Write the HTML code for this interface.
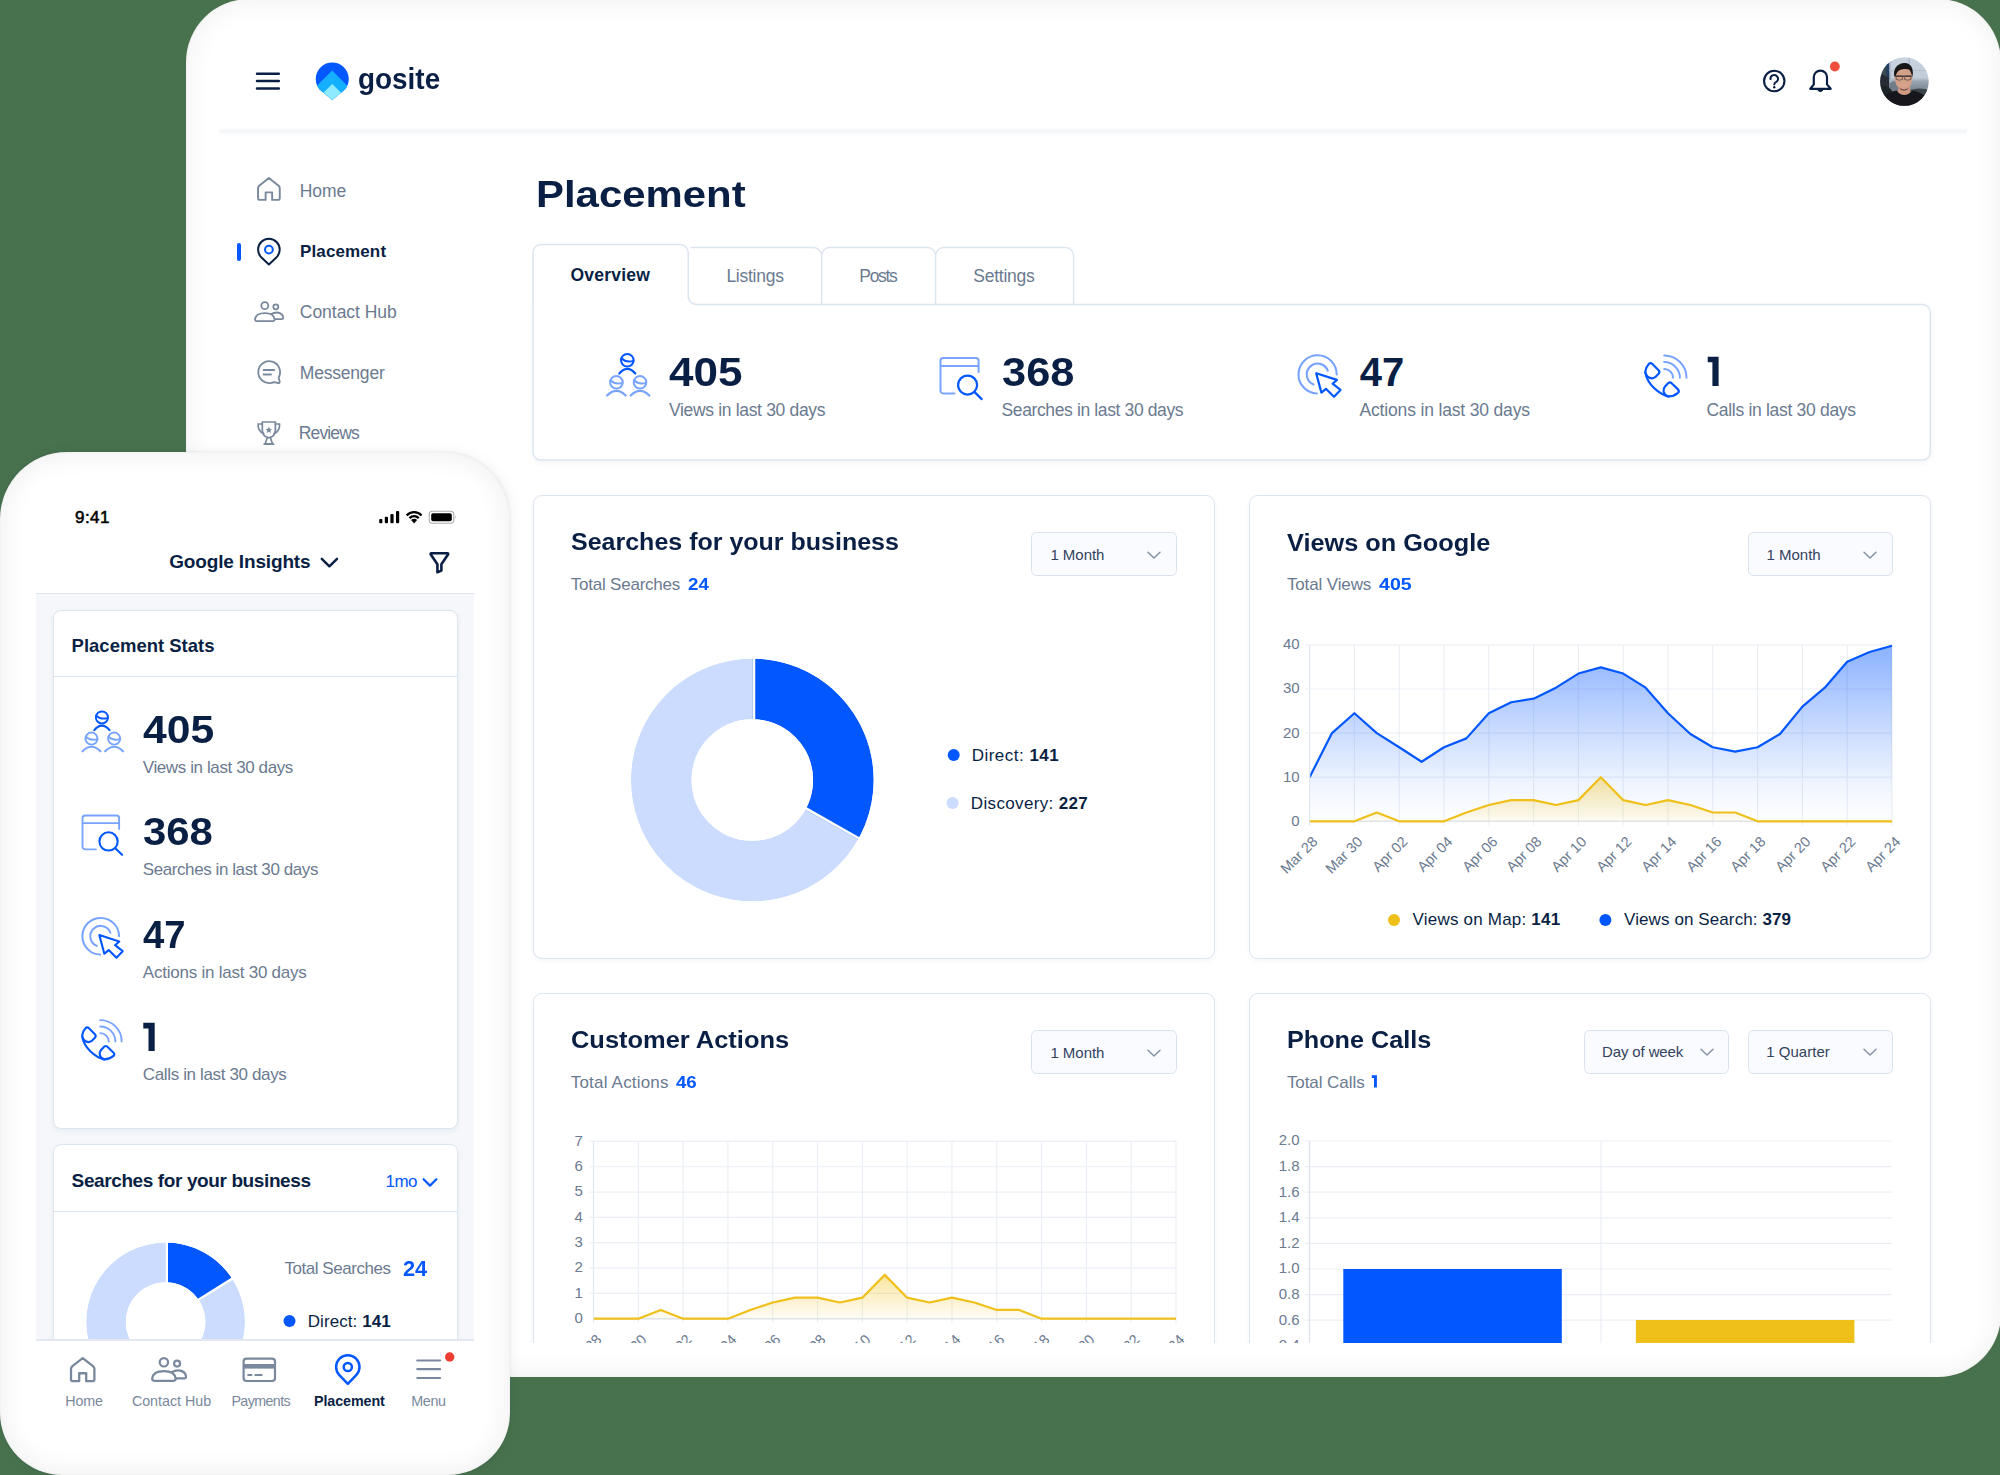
<!DOCTYPE html>
<html><head><meta charset="utf-8"><title>GoSite Placement</title>
<style>
html,body{margin:0;padding:0;}
body{width:2000px;height:1475px;overflow:hidden;background:#48724d;position:relative;font-family:"Liberation Sans",sans-serif;}
.b{position:absolute;box-sizing:border-box;}
.t{position:absolute;white-space:nowrap;line-height:1;transform-origin:0 50%;}
.clip{position:absolute;overflow:hidden;}
</style></head><body>
<div class="b" style="left:186px;top:-1px;width:1815px;height:1378px;border-radius:63px;background:#fff;box-shadow:inset 0 0 26px 4px rgba(15,15,25,0.052), inset 0 0 3px rgba(15,15,25,0.05);"></div>
<div class="b" style="left:219px;top:30px;width:1748px;height:1313px;border-radius:30px 30px 0 0;background:#fff;box-shadow:0 0 10px 6px #fff;"></div>
<div class="clip" style="left:0;top:0;width:2000px;height:1343px;">
<div class="b" style="left:219px;top:127.5px;width:1748px;height:3px;background:linear-gradient(#fff,#f3f5f8);"></div>
<div class="b" style="left:219px;top:130.5px;width:1748px;height:4px;background:linear-gradient(#f2f4f7,#fff);"></div>
<svg class="b" style="left:250px;top:66px;" width="36" height="30" viewBox="0 0 36 30" fill="none"><path d="M7 7.8H28.8M7 15.1H28.8M7 22.6H28.8" stroke="#0a1f44" stroke-width="2.5" stroke-linecap="round"/></svg>
<svg class="b" style="left:312px;top:58px;" width="42" height="46" viewBox="0 0 42 46" fill="none"><defs><clipPath id="lp"><path d="M20.25 42 L7.6 31.6 A16.5 16.5 0 1 1 32.9 31.6 Z"/></clipPath></defs>
<g clip-path="url(#lp)"><rect x="0" y="0" width="42" height="46" fill="#0357ff"/>
<path d="M20.25 12.6 L44 36.4 V46 H-4 V36.4 Z" fill="#14b0ff"/>
<path d="M20.25 26 L44 49.8 H-4 Z" fill="#8eeaff"/></g></svg>
<div class="t" style="left:358.40px;top:64.55px;font-size:29px;color:#0a1f44;font-weight:700;transform:scaleX(0.9618);">gosite</div>
<svg class="b" style="left:1760px;top:67px;" width="28" height="28" viewBox="0 0 28 28" fill="none"><circle cx="14.25" cy="14" r="10.2" stroke="#0a1f44" stroke-width="2.1"/><path d="M10.5 12.1 A3.75 3.75 0 1 1 16.3 14.9 C14.7 15.7 14.25 16.2 14.25 17.6" stroke="#0a1f44" stroke-width="2" stroke-linecap="round"/><circle cx="14.25" cy="20.3" r="1.2" fill="#0a1f44"/></svg>
<svg class="b" style="left:1804px;top:60px;" width="40" height="38" viewBox="0 0 40 38" fill="none"><path d="M6.3 28.8 H26.7 L23 24.4 V17.2 A6.6 6.6 0 0 0 9.8 17.2 V24.4 Z" stroke="#0a1f44" stroke-width="2.2" stroke-linejoin="round"/><path d="M13.6 29.5 A2.8 2.8 0 0 0 19.0 29.5Z" fill="#0a1f44" stroke="#0a1f44" stroke-width="1"/><circle cx="30.85" cy="6.5" r="4.9" fill="#f04e3e"/></svg>
<svg class="b" style="left:1879.8px;top:56.9px;" width="49" height="49" viewBox="0 0 49 49" fill="none"><defs><clipPath id="av"><circle cx="24.4" cy="24.5" r="24.3"/></clipPath>
<linearGradient id="avbg" x1="0" y1="0" x2="0" y2="1"><stop offset="0" stop-color="#c9d4e1"/><stop offset="0.42" stop-color="#c2ccd8"/><stop offset="0.5" stop-color="#98a5b2"/><stop offset="0.66" stop-color="#7c8994"/><stop offset="0.72" stop-color="#4a565b"/><stop offset="1" stop-color="#2c3336"/></linearGradient>
<filter id="avb" x="-10%" y="-10%" width="120%" height="120%"><feGaussianBlur stdDeviation="0.7"/></filter></defs>
<g clip-path="url(#av)"><rect width="49" height="49" fill="url(#avbg)"/>
<g filter="url(#avb)">
<path d="M0 10 L9 4 L9.5 40 L0 44Z" fill="#3b4852"/>
<path d="M6.5 6 L9.2 4.5 L9.6 22 L6.5 23Z" fill="#243c63"/>
<path d="M0 16 L9 21 L9 34 L0 30Z" fill="#252c31"/>
<rect x="9.6" y="3" width="1.6" height="34" fill="#aeb9c6"/>
<rect x="28.6" y="0" width="1.2" height="22" fill="#aab5c2"/>
<rect x="9" y="13.2" width="40" height="0.9" fill="#b3bdc9"/>
<path d="M9.5 26 L20 22 L20 40 L9.5 40Z" fill="#6f7d88"/>
<path d="M0 30 Q8 26 13 36 L16 49 L0 49Z" fill="#1f2326"/>
<path d="M30 33 Q40 30 49 33 L49 49 L30 49Z" fill="#3a4548"/>
<path d="M15.2 25 Q13.6 16 17 11 Q24 9 31 12 Q33.4 18 31.6 25 Q30.6 31.6 24 32.6 Q17 31.8 15.2 25Z" fill="#d5a088"/>
<path d="M14.2 19.5 Q12.6 9.5 21 6.4 Q30 4.6 32.4 12 Q33.6 16.5 32.2 20.5 Q31.6 15 29 12.4 Q24 11.2 19.8 13 Q16.6 14.6 15.6 19.6Z" fill="#131316"/>
<path d="M15.6 18.6 H31.6 V20 H15.6Z" fill="#4a3f3c"/>
<path d="M16.2 18.8 h6.4 v3.6 q-3.2 1.6 -6.4 0Z M24.6 18.8 h6.4 v3.6 q-3.2 1.6 -6.4 0Z" fill="none" stroke="#5a4a46" stroke-width="0.8"/>
<path d="M20.4 27.2 Q24 29.6 27.6 27.2 Q24 30.8 20.4 27.2Z" fill="#e9b7a6"/>
<path d="M18.4 29.5 Q24 35 30 29.5 L30.6 36 Q24 41 17.8 36Z" fill="#cf9a82"/>
<path d="M19 30.6 Q24 34.4 29.4 30.6 Q27 33.8 24 33.6 Q21 33.8 19 30.6Z" fill="#3a2a26" opacity="0.75"/>
<path d="M0 49 V42 Q6 35.6 16.4 33.6 Q24 42.6 32.6 33.6 Q43 35.6 49 43 V49Z" fill="#19191c"/>
</g></g></svg>
<svg class="b" style="left:0px;top:0px;" width="600" height="470" viewBox="0 0 600 470" fill="none"><path d="M265.64 199.90H260.05Q258.05 199.90 258.05 197.90V188.26Q258.05 186.76 259.45 185.56L268.90 178.00L278.35 185.56Q279.75 186.76 279.75 188.26V197.90Q279.75 199.90 277.75 199.90H272.15V192.34H265.64Z" stroke="#7a889e" stroke-width="1.9" stroke-linejoin="round"/><path d="M261.46 257.43A10.8 10.8 0 1 1 276.34 257.43L268.9 264.5Z" stroke="#0a1f44" stroke-width="2.0" stroke-linejoin="round"/><circle cx="268.9" cy="249.6" r="3.9" stroke="#0357ff" stroke-width="2.0"/><circle cx="264.8" cy="305.7" r="3.50" stroke="#7a889e" stroke-width="1.8"/><circle cx="275.80" cy="306.80" r="2.50" stroke="#7a889e" stroke-width="1.8"/><path d="M271.00 314.10Q274.30 312.30 277.20 312.50Q283.00 313.30 283.20 317.70Q283.20 319.10 281.80 319.10H274.60" stroke="#7a889e" stroke-width="1.8" stroke-linecap="round" stroke-linejoin="round"/><path d="M256.60 321.10Q255.00 321.10 255.00 319.30Q255.80 313.10 264.80 313.10Q273.80 313.10 274.60 319.30Q274.60 321.10 273.00 321.10Z" stroke="#7a889e" stroke-width="1.8" stroke-linejoin="round" fill="#fff"/><path d="M278.6 377.6 A10.9 10.9 0 1 0 271.4 382.8 Q273.4 382.0 275.4 382.4 L278.2 383.0 Q279.9 383.2 279.7 381.6 Z" stroke="#7a889e" stroke-width="1.8" stroke-linejoin="round"/><path d="M263.6 370H274.2M263.6 374.5H271" stroke="#7a889e" stroke-width="1.8" stroke-linecap="round"/><path d="M262.3 422 H275.4 V429.5 Q275.4 436.6 268.85 437.8 Q262.3 436.6 262.3 429.5 Z" stroke="#7a889e" stroke-width="1.7" stroke-linejoin="round"/><path d="M262.3 424 H258.2 Q257.4 430.6 263.6 433.6 M275.4 424 H279.5 Q280.3 430.6 274.1 433.6" stroke="#7a889e" stroke-width="1.7" stroke-linecap="round"/><path d="M267.2 438 L265.2 443.8 H272.5 L270.5 438 M264.2 444.2 H273.6" stroke="#7a889e" stroke-width="1.7" stroke-linejoin="round" stroke-linecap="round"/><path d="M268.85 426.6 L269.8 428.8 L272.1 429 L270.4 430.6 L270.9 432.9 L268.85 431.7 L266.8 432.9 L267.3 430.6 L265.6 429 L267.9 428.8Z" fill="#7a889e"/></svg>
<div class="b" style="left:237.3px;top:242.8px;width:4px;height:18px;background:#0357ff;border-radius:2px;"></div>
<div class="t" style="left:299.80px;top:182.59px;font-size:17.5px;color:#6b7a90;letter-spacing:-0.075px;">Home</div>
<div class="t" style="left:300.00px;top:243.31px;font-size:17px;color:#0a1f44;font-weight:700;letter-spacing:0.125px;">Placement</div>
<div class="t" style="left:299.80px;top:304.29px;font-size:17.5px;color:#6b7a90;letter-spacing:-0.030px;">Contact Hub</div>
<div class="t" style="left:299.80px;top:364.79px;font-size:17.5px;color:#6b7a90;letter-spacing:-0.203px;">Messenger</div>
<div class="t" style="left:298.80px;top:425.29px;font-size:17.5px;color:#6b7a90;letter-spacing:-0.858px;">Reviews</div>
<div class="t" style="left:536.30px;top:176.95px;font-size:36.8px;color:#0a1f44;font-weight:700;transform:scaleX(1.1386);">Placement</div>
<div class="b" style="left:533px;top:304.4px;width:1397.5px;height:156.4px;border-radius:0 9px 9px 9px;background:#fff;box-shadow:0 2px 6px rgba(30,60,110,0.06);"></div>
<svg class="b" style="left:0px;top:0px;" width="2000" height="470" viewBox="0 0 2000 470" fill="none"><path d="M696.2 304.4H1922.3a8 8 0 0 1 8 8V452.1a8 8 0 0 1 -8 8H541.0a8 8 0 0 1 -8 -8V252.6a8 8 0 0 1 8 -8H680.2a8 8 0 0 1 8 8V296.4a8 8 0 0 0 8 8Z" fill="#fff" stroke="#dde5f0" stroke-width="1.5"/><path d="M690.7 247.6H813.6a8 8 0 0 1 8 8V304.4M821.6 304.4V255.6a8 8 0 0 1 8 -8H927.6a8 8 0 0 1 8 8V304.4M935.6 304.4V255.6a8 8 0 0 1 8 -8H1065.6a8 8 0 0 1 8 8V304.4" stroke="#dde5f0" stroke-width="1.5"/></svg>
<div class="t" style="left:570.50px;top:266.89px;font-size:17.5px;color:#0a1f44;font-weight:700;letter-spacing:0.232px;">Overview</div>
<div class="t" style="left:726.40px;top:267.69px;font-size:17.5px;color:#6b7a90;letter-spacing:-0.261px;">Listings</div>
<div class="t" style="left:859.30px;top:267.69px;font-size:17.5px;color:#6b7a90;letter-spacing:-1.312px;">Posts</div>
<div class="t" style="left:973.30px;top:267.69px;font-size:17.5px;color:#6b7a90;letter-spacing:-0.239px;">Settings</div>
<svg class="b" style="left:0px;top:0px;" width="2000" height="470" viewBox="0 0 2000 470" fill="none"><circle cx="627.3" cy="360.3" r="6.3" stroke="#0357ff" stroke-width="2"/><path d="M621.4 358.3 Q625.8 362.90000000000003 633.5 360.90000000000003" stroke="#0357ff" stroke-width="2" stroke-linecap="round"/><path d="M619.3 373.5 Q627.3 364.1 635.3 373.5" stroke="#0357ff" stroke-width="2.2" stroke-linecap="round"/><circle cx="616.4" cy="382.3" r="6.3" stroke="#78a4ff" stroke-width="2"/><path d="M610.5 380.3 Q614.9 384.90000000000003 622.6 382.90000000000003" stroke="#78a4ff" stroke-width="2" stroke-linecap="round"/><path d="M607.1 395.5 Q616.4 386.1 625.6999999999999 395.5" stroke="#78a4ff" stroke-width="2.2" stroke-linecap="round"/><circle cx="640.0" cy="382.3" r="6.3" stroke="#78a4ff" stroke-width="2"/><path d="M634.1 380.3 Q638.5 384.90000000000003 646.2 382.90000000000003" stroke="#78a4ff" stroke-width="2" stroke-linecap="round"/><path d="M630.7 395.5 Q640.0 386.1 649.3 395.5" stroke="#78a4ff" stroke-width="2.2" stroke-linecap="round"/><g transform="translate(939 356)"><path d="M15.4 37.4H4.2a2.7 2.7 0 0 1-2.7-2.7V4.7A2.7 2.7 0 0 1 4.2 2H36.9a2.7 2.7 0 0 1 2.7 2.7V16.1M1.5 10H39.6" stroke="#78a4ff" stroke-width="2" stroke-linecap="round"/><circle cx="28.6" cy="29.1" r="9.5" stroke="#0357ff" stroke-width="2.2"/><path d="M35.6 36.1L42.7 43.1" stroke="#0357ff" stroke-width="2.2" stroke-linecap="round"/></g><path d="M1316.93 393.49A19.1 19.1 0 1 1 1336.70 374.40" stroke="#78a4ff" stroke-width="2.1" stroke-linecap="round"/><path d="M1313.55 384.41A10.8 10.8 0 1 1 1327.75 370.71" stroke="#78a4ff" stroke-width="2.1" stroke-linecap="round"/><path d="M1316.20 373.20 L1336.90 379.90 L1332.60 383.70 L1340.50 389.90 L1334.00 396.80 L1325.90 388.80 L1321.40 392.60Z" stroke="#0357ff" stroke-width="2.2" stroke-linejoin="round" fill="#fff"/><g transform="translate(1630 340)"><path d="M34.20 15.50A22.3 22.3 0 0 1 56.50 37.80" stroke="#78a4ff" stroke-width="2" stroke-linecap="round"/><path d="M34.20 22.10A15.7 15.7 0 0 1 49.90 37.80" stroke="#78a4ff" stroke-width="2" stroke-linecap="round"/><path d="M34.20 29.00A8.8 8.8 0 0 1 43.00 37.80" stroke="#78a4ff" stroke-width="2" stroke-linecap="round"/><path d="M19.2 23.4 Q21 22.6 22.4 24.0 L28.6 30.2 Q30.2 32.0 28.6 33.8 L25.2 37.2 Q21.4 39.8 17.6 36.6 Q15.0 33.4 15.4 31.2 Q16.2 26.6 19.2 23.4Z" stroke="#0357ff" stroke-width="2.2" stroke-linejoin="round"/><path d="M38.4 43.0 Q40.0 41.8 41.6 43.2 L48.0 49.4 Q49.6 51.2 48.0 52.8 Q43.4 56.6 38.2 56.4 Q34.6 55.4 33.6 51.2 Q33.4 48.4 35.0 46.6 Z" stroke="#0357ff" stroke-width="2.2" stroke-linejoin="round"/><path d="M15.4 32.6 Q16.6 40.6 23.8 47.8 Q30.8 54.6 38.4 56.4" stroke="#0357ff" stroke-width="2.2" stroke-linecap="round"/></g></svg>
<div class="t" style="left:669.30px;top:351.94px;font-size:40px;color:#0a1f44;font-weight:700;transform:scaleX(1.1003);">405</div>
<div class="t" style="left:1001.50px;top:351.94px;font-size:40px;color:#0a1f44;font-weight:700;transform:scaleX(1.0853);">368</div>
<div class="t" style="left:1359.80px;top:351.94px;font-size:40px;color:#0a1f44;font-weight:700;">47</div>
<svg class="b" style="left:1700px;top:350px;" width="30" height="40" viewBox="0 0 30 40" fill="none"><path d="M7.7 6.8H18.6V35.9H12.4V12.2H7.7Z" fill="#0a1f44"/></svg>
<div class="t" style="left:669.00px;top:402.09px;font-size:17.5px;color:#6b7a90;letter-spacing:-0.330px;">Views in last 30 days</div>
<div class="t" style="left:1001.50px;top:402.09px;font-size:17.5px;color:#6b7a90;letter-spacing:-0.373px;">Searches in last 30 days</div>
<div class="t" style="left:1359.50px;top:402.09px;font-size:17.5px;color:#6b7a90;letter-spacing:-0.165px;">Actions in last 30 days</div>
<div class="t" style="left:1706.50px;top:402.09px;font-size:17.5px;color:#6b7a90;letter-spacing:-0.304px;">Calls in last 30 days</div>
<div class="b" style="left:533px;top:495px;width:682px;height:463.5px;border:1.5px solid #dde5f0;border-radius:9px;background:#fff;box-shadow:0 2px 5px rgba(30,60,110,0.05);"></div>
<div class="b" style="left:1249px;top:495px;width:682px;height:463.5px;border:1.5px solid #dde5f0;border-radius:9px;background:#fff;box-shadow:0 2px 5px rgba(30,60,110,0.05);"></div>
<div class="b" style="left:533px;top:993px;width:682px;height:463.5px;border:1.5px solid #dde5f0;border-radius:9px;background:#fff;box-shadow:0 2px 5px rgba(30,60,110,0.05);"></div>
<div class="b" style="left:1249px;top:993px;width:682px;height:463.5px;border:1.5px solid #dde5f0;border-radius:9px;background:#fff;box-shadow:0 2px 5px rgba(30,60,110,0.05);"></div>
<div class="t" style="left:570.80px;top:531.33px;font-size:23px;color:#0a1f44;font-weight:700;transform:scaleX(1.0870);">Searches for your business</div>
<div class="t" style="left:570.80px;top:575.91px;font-size:17px;color:#6b7a90;letter-spacing:-0.228px;">Total Searches</div>
<div class="t" style="left:688.10px;top:575.91px;font-size:17px;color:#0357ff;font-weight:700;transform:scaleX(1.0977);">24</div>
<div class="b" style="left:1031.3px;top:531.85px;width:145.5px;height:44.3px;border:1.5px solid #dae2ed;border-radius:5.5px;background:#fafbfe;"></div>
<div class="t" style="left:1050.40px;top:546.60px;font-size:15px;color:#33425f;letter-spacing:-0.025px;">1 Month</div>
<svg class="b" style="left:1146px;top:548.6px;" width="16" height="12" viewBox="0 0 16 12" fill="none"><path d="M2 3.2 L8 9 L14 3.2" stroke="#8693a6" stroke-width="1.5" stroke-linecap="round" stroke-linejoin="round"/></svg>
<svg class="b" style="left:0px;top:0px;" width="1240" height="960" viewBox="0 0 1240 960" fill="none"><path d="M752.30 658.60A121.4 121.4 0 0 1 857.96 839.78L805.17 809.91A60.75 60.75 0 0 0 752.30 719.25Z" fill="#0357ff"/><path d="M857.96 839.78A121.4 121.4 0 1 1 752.30 658.60L752.30 719.25A60.75 60.75 0 1 0 805.17 809.91Z" fill="#ccdcff"/><path d="M752.30 720.75L752.30 657.10L754.20 657.10L754.20 720.75Z" fill="#ccdcff"/><path d="M803.87 809.18L859.27 840.52L860.20 838.87L804.80 807.52Z" fill="#ccdcff"/><circle cx="752.3" cy="780" r="91.075" stroke="none" fill="none"/><path d="M754.20 721.25L754.20 656.60" stroke="#fff" stroke-width="2.1"/><path d="M804.37 807.28L860.64 839.11" stroke="#fff" stroke-width="2.1"/><circle cx="752.3" cy="780" r="123.4" stroke="#fff" stroke-width="4" fill="none"/><circle cx="752.3" cy="780" r="58.75" stroke="#fff" stroke-width="4" fill="none"/><circle cx="953.7" cy="755" r="6" fill="#0357ff"/><circle cx="952.6" cy="803" r="6" fill="#ccdcff"/></svg>
<div class="t" style="left:971.70px;top:746.71px;font-size:17px;letter-spacing:0.480px;white-space:pre"><span style="color:#0a1f44;">Direct:</span><span style="color:#0a1f44;">&nbsp;</span><span style="color:#0a1f44;font-weight:700;">141</span></div>
<div class="t" style="left:970.80px;top:795.41px;font-size:17px;letter-spacing:0.352px;white-space:pre"><span style="color:#0a1f44;">Discovery:</span><span style="color:#0a1f44;">&nbsp;</span><span style="color:#0a1f44;font-weight:700;">227</span></div>
<div class="t" style="left:1286.90px;top:531.63px;font-size:23px;color:#0a1f44;font-weight:700;transform:scaleX(1.0994);">Views on Google</div>
<div class="t" style="left:1286.90px;top:575.51px;font-size:17px;color:#6b7a90;letter-spacing:-0.128px;">Total Views</div>
<div class="t" style="left:1379.00px;top:575.51px;font-size:17px;color:#0357ff;font-weight:700;transform:scaleX(1.1518);">405</div>
<div class="b" style="left:1747.6px;top:532.15px;width:145.2px;height:44.3px;border:1.5px solid #dae2ed;border-radius:5.5px;background:#fafbfe;"></div>
<div class="t" style="left:1766.60px;top:546.90px;font-size:15px;color:#33425f;letter-spacing:-0.025px;">1 Month</div>
<svg class="b" style="left:1862px;top:548.9px;" width="16" height="12" viewBox="0 0 16 12" fill="none"><path d="M2 3.2 L8 9 L14 3.2" stroke="#8693a6" stroke-width="1.5" stroke-linecap="round" stroke-linejoin="round"/></svg>
<svg class="b" style="left:0px;top:0px;" width="2000" height="960" viewBox="0 0 2000 960" fill="none"><defs><linearGradient id="gbv" x1="0" y1="0" x2="0" y2="1"><stop offset="0" stop-color="#0357ff" stop-opacity="0.46"/><stop offset="0.5" stop-color="#0357ff" stop-opacity="0.2"/><stop offset="0.78" stop-color="#0357ff" stop-opacity="0.065"/><stop offset="1" stop-color="#0357ff" stop-opacity="0.0"/></linearGradient><linearGradient id="gyv" x1="0" y1="0" x2="0" y2="1"><stop offset="0" stop-color="#f4cd46" stop-opacity="0.52"/><stop offset="1" stop-color="#f4cd46" stop-opacity="0.06"/></linearGradient><clipPath id="cpv"><rect x="1310.1999999999998" y="641.9" width="582.2" height="182.39999999999998"/></clipPath></defs><path d="M1309.60 644.9V825.3" stroke="#dfe6f1" stroke-width="1.2"/><path d="M1354.40 644.9V825.3" stroke="#ebeff5" stroke-width="1.2"/><path d="M1399.20 644.9V825.3" stroke="#ebeff5" stroke-width="1.2"/><path d="M1444.00 644.9V825.3" stroke="#ebeff5" stroke-width="1.2"/><path d="M1488.80 644.9V825.3" stroke="#ebeff5" stroke-width="1.2"/><path d="M1533.60 644.9V825.3" stroke="#ebeff5" stroke-width="1.2"/><path d="M1578.40 644.9V825.3" stroke="#ebeff5" stroke-width="1.2"/><path d="M1623.20 644.9V825.3" stroke="#ebeff5" stroke-width="1.2"/><path d="M1668.00 644.9V825.3" stroke="#ebeff5" stroke-width="1.2"/><path d="M1712.80 644.9V825.3" stroke="#ebeff5" stroke-width="1.2"/><path d="M1757.60 644.9V825.3" stroke="#ebeff5" stroke-width="1.2"/><path d="M1802.40 644.9V825.3" stroke="#ebeff5" stroke-width="1.2"/><path d="M1847.20 644.9V825.3" stroke="#ebeff5" stroke-width="1.2"/><path d="M1892.00 644.9V825.3" stroke="#ebeff5" stroke-width="1.2"/><path d="M1305.6 777.20H1892.0" stroke="#ebeff5" stroke-width="1.2"/><path d="M1305.6 733.10H1892.0" stroke="#ebeff5" stroke-width="1.2"/><path d="M1305.6 689.00H1892.0" stroke="#ebeff5" stroke-width="1.2"/><path d="M1305.6 644.90H1892.0" stroke="#ebeff5" stroke-width="1.2"/><path d="M1309.6 821.3H1892.0" stroke="#dfe4ec" stroke-width="1.4"/><g clip-path="url(#cpv)"><path d="M1309.60 777.20 L1332.00 733.10 L1354.40 713.25 L1376.80 733.10 L1399.20 747.21 L1421.60 761.76 L1444.00 747.21 L1466.40 738.39 L1488.80 713.25 L1511.20 702.23 L1533.60 698.70 L1556.00 687.68 L1578.40 673.56 L1600.80 667.39 L1623.20 673.56 L1645.60 687.68 L1668.00 713.25 L1690.40 733.98 L1712.80 747.21 L1735.20 751.62 L1757.60 747.21 L1780.00 733.98 L1802.40 706.64 L1824.80 687.68 L1847.20 661.66 L1869.60 651.96 L1892.00 645.78 L1892.0 821.3 L1309.6 821.3Z" fill="url(#gbv)"/><path d="M1309.60 777.20 L1332.00 733.10 L1354.40 713.25 L1376.80 733.10 L1399.20 747.21 L1421.60 761.76 L1444.00 747.21 L1466.40 738.39 L1488.80 713.25 L1511.20 702.23 L1533.60 698.70 L1556.00 687.68 L1578.40 673.56 L1600.80 667.39 L1623.20 673.56 L1645.60 687.68 L1668.00 713.25 L1690.40 733.98 L1712.80 747.21 L1735.20 751.62 L1757.60 747.21 L1780.00 733.98 L1802.40 706.64 L1824.80 687.68 L1847.20 661.66 L1869.60 651.96 L1892.00 645.78" stroke="#0357ff" stroke-width="2.2" stroke-linejoin="round" stroke-linecap="butt"/><path d="M1309.60 821.30 L1332.00 821.30 L1354.40 821.30 L1376.80 812.48 L1399.20 821.30 L1421.60 821.30 L1444.00 821.30 L1466.40 812.48 L1488.80 804.98 L1511.20 800.13 L1533.60 800.13 L1556.00 804.98 L1578.40 800.13 L1600.80 777.20 L1623.20 800.13 L1645.60 804.98 L1668.00 800.13 L1690.40 804.98 L1712.80 812.48 L1735.20 812.48 L1757.60 821.30 L1780.00 821.30 L1802.40 821.30 L1824.80 821.30 L1847.20 821.30 L1869.60 821.30 L1892.00 821.30 L1892.0 821.3 L1309.6 821.3Z" fill="url(#gyv)"/><path d="M1309.60 821.30 L1332.00 821.30 L1354.40 821.30 L1376.80 812.48 L1399.20 821.30 L1421.60 821.30 L1444.00 821.30 L1466.40 812.48 L1488.80 804.98 L1511.20 800.13 L1533.60 800.13 L1556.00 804.98 L1578.40 800.13 L1600.80 777.20 L1623.20 800.13 L1645.60 804.98 L1668.00 800.13 L1690.40 804.98 L1712.80 812.48 L1735.20 812.48 L1757.60 821.30 L1780.00 821.30 L1802.40 821.30 L1824.80 821.30 L1847.20 821.30 L1869.60 821.30 L1892.00 821.30" stroke="#f0c01a" stroke-width="2.2" stroke-linejoin="round" stroke-linecap="butt"/></g><circle cx="1394" cy="919.9" r="6" fill="#f0c01a"/><circle cx="1605.4" cy="919.9" r="6" fill="#0357ff"/></svg>
<div class="t" style="left:1291.20px;top:812.70px;font-size:15px;color:#6b7a90;">0</div>
<div class="t" style="left:1282.95px;top:768.60px;font-size:15px;color:#6b7a90;">10</div>
<div class="t" style="left:1282.95px;top:724.50px;font-size:15px;color:#6b7a90;">20</div>
<div class="t" style="left:1282.95px;top:680.40px;font-size:15px;color:#6b7a90;">30</div>
<div class="t" style="left:1282.95px;top:636.30px;font-size:15px;color:#6b7a90;">40</div>
<div class="t" style="left:1255.30px;top:832.40px;width:60px;text-align:right;font-size:14.5px;color:#6b7a90;transform-origin:100% 50%;transform:rotate(-45deg);">Mar 28</div>
<div class="t" style="left:1300.10px;top:832.40px;width:60px;text-align:right;font-size:14.5px;color:#6b7a90;transform-origin:100% 50%;transform:rotate(-45deg);">Mar 30</div>
<div class="t" style="left:1344.90px;top:832.40px;width:60px;text-align:right;font-size:14.5px;color:#6b7a90;transform-origin:100% 50%;transform:rotate(-45deg);">Apr 02</div>
<div class="t" style="left:1389.70px;top:832.40px;width:60px;text-align:right;font-size:14.5px;color:#6b7a90;transform-origin:100% 50%;transform:rotate(-45deg);">Apr 04</div>
<div class="t" style="left:1434.50px;top:832.40px;width:60px;text-align:right;font-size:14.5px;color:#6b7a90;transform-origin:100% 50%;transform:rotate(-45deg);">Apr 06</div>
<div class="t" style="left:1479.30px;top:832.40px;width:60px;text-align:right;font-size:14.5px;color:#6b7a90;transform-origin:100% 50%;transform:rotate(-45deg);">Apr 08</div>
<div class="t" style="left:1524.10px;top:832.40px;width:60px;text-align:right;font-size:14.5px;color:#6b7a90;transform-origin:100% 50%;transform:rotate(-45deg);">Apr 10</div>
<div class="t" style="left:1568.90px;top:832.40px;width:60px;text-align:right;font-size:14.5px;color:#6b7a90;transform-origin:100% 50%;transform:rotate(-45deg);">Apr 12</div>
<div class="t" style="left:1613.70px;top:832.40px;width:60px;text-align:right;font-size:14.5px;color:#6b7a90;transform-origin:100% 50%;transform:rotate(-45deg);">Apr 14</div>
<div class="t" style="left:1658.50px;top:832.40px;width:60px;text-align:right;font-size:14.5px;color:#6b7a90;transform-origin:100% 50%;transform:rotate(-45deg);">Apr 16</div>
<div class="t" style="left:1703.30px;top:832.40px;width:60px;text-align:right;font-size:14.5px;color:#6b7a90;transform-origin:100% 50%;transform:rotate(-45deg);">Apr 18</div>
<div class="t" style="left:1748.10px;top:832.40px;width:60px;text-align:right;font-size:14.5px;color:#6b7a90;transform-origin:100% 50%;transform:rotate(-45deg);">Apr 20</div>
<div class="t" style="left:1792.90px;top:832.40px;width:60px;text-align:right;font-size:14.5px;color:#6b7a90;transform-origin:100% 50%;transform:rotate(-45deg);">Apr 22</div>
<div class="t" style="left:1837.70px;top:832.40px;width:60px;text-align:right;font-size:14.5px;color:#6b7a90;transform-origin:100% 50%;transform:rotate(-45deg);">Apr 24</div>
<div class="t" style="left:1412.60px;top:911.31px;font-size:17px;letter-spacing:0.202px;white-space:pre"><span style="color:#0a1f44;">Views on Map:</span><span style="color:#0a1f44;">&nbsp;</span><span style="color:#0a1f44;font-weight:700;">141</span></div>
<div class="t" style="left:1624.00px;top:911.31px;font-size:17px;letter-spacing:0.102px;white-space:pre"><span style="color:#0a1f44;">Views on Search:</span><span style="color:#0a1f44;">&nbsp;</span><span style="color:#0a1f44;font-weight:700;">379</span></div>
<div class="t" style="left:570.80px;top:1029.43px;font-size:23px;color:#0a1f44;font-weight:700;transform:scaleX(1.1060);">Customer Actions</div>
<div class="t" style="left:570.80px;top:1073.91px;font-size:17px;color:#6b7a90;letter-spacing:0.186px;">Total Actions</div>
<div class="t" style="left:676.20px;top:1073.91px;font-size:17px;color:#0357ff;font-weight:700;transform:scaleX(1.0970);">46</div>
<div class="b" style="left:1031.3px;top:1029.95px;width:145.5px;height:44.3px;border:1.5px solid #dae2ed;border-radius:5.5px;background:#fafbfe;"></div>
<div class="t" style="left:1050.40px;top:1044.70px;font-size:15px;color:#33425f;letter-spacing:-0.025px;">1 Month</div>
<svg class="b" style="left:1146px;top:1046.7px;" width="16" height="12" viewBox="0 0 16 12" fill="none"><path d="M2 3.2 L8 9 L14 3.2" stroke="#8693a6" stroke-width="1.5" stroke-linecap="round" stroke-linejoin="round"/></svg>
<svg class="b" style="left:0px;top:0px;" width="1240" height="1400" viewBox="0 0 1240 1400" fill="none"><defs><linearGradient id="gba" x1="0" y1="0" x2="0" y2="1"><stop offset="0" stop-color="#0357ff" stop-opacity="0.46"/><stop offset="0.5" stop-color="#0357ff" stop-opacity="0.2"/><stop offset="0.78" stop-color="#0357ff" stop-opacity="0.065"/><stop offset="1" stop-color="#0357ff" stop-opacity="0.0"/></linearGradient><linearGradient id="gya" x1="0" y1="0" x2="0" y2="1"><stop offset="0" stop-color="#f4cd46" stop-opacity="0.52"/><stop offset="1" stop-color="#f4cd46" stop-opacity="0.06"/></linearGradient><clipPath id="cpa"><rect x="594.1" y="1138.4" width="582.3" height="183.29999999999995"/></clipPath></defs><path d="M593.50 1141.4V1322.7" stroke="#dfe6f1" stroke-width="1.2"/><path d="M638.31 1141.4V1322.7" stroke="#ebeff5" stroke-width="1.2"/><path d="M683.12 1141.4V1322.7" stroke="#ebeff5" stroke-width="1.2"/><path d="M727.92 1141.4V1322.7" stroke="#ebeff5" stroke-width="1.2"/><path d="M772.73 1141.4V1322.7" stroke="#ebeff5" stroke-width="1.2"/><path d="M817.54 1141.4V1322.7" stroke="#ebeff5" stroke-width="1.2"/><path d="M862.35 1141.4V1322.7" stroke="#ebeff5" stroke-width="1.2"/><path d="M907.15 1141.4V1322.7" stroke="#ebeff5" stroke-width="1.2"/><path d="M951.96 1141.4V1322.7" stroke="#ebeff5" stroke-width="1.2"/><path d="M996.77 1141.4V1322.7" stroke="#ebeff5" stroke-width="1.2"/><path d="M1041.58 1141.4V1322.7" stroke="#ebeff5" stroke-width="1.2"/><path d="M1086.38 1141.4V1322.7" stroke="#ebeff5" stroke-width="1.2"/><path d="M1131.19 1141.4V1322.7" stroke="#ebeff5" stroke-width="1.2"/><path d="M1176.00 1141.4V1322.7" stroke="#ebeff5" stroke-width="1.2"/><path d="M589.5 1293.37H1176" stroke="#ebeff5" stroke-width="1.2"/><path d="M589.5 1268.04H1176" stroke="#ebeff5" stroke-width="1.2"/><path d="M589.5 1242.71H1176" stroke="#ebeff5" stroke-width="1.2"/><path d="M589.5 1217.39H1176" stroke="#ebeff5" stroke-width="1.2"/><path d="M589.5 1192.06H1176" stroke="#ebeff5" stroke-width="1.2"/><path d="M589.5 1166.73H1176" stroke="#ebeff5" stroke-width="1.2"/><path d="M589.5 1141.40H1176" stroke="#ebeff5" stroke-width="1.2"/><path d="M593.5 1318.7H1176" stroke="#dfe4ec" stroke-width="1.4"/><g clip-path="url(#cpa)"><path d="M593.50 1318.70 L615.90 1318.70 L638.31 1318.70 L660.71 1309.94 L683.12 1318.70 L705.52 1318.70 L727.92 1318.70 L750.33 1309.94 L772.73 1302.49 L795.13 1297.67 L817.54 1297.67 L839.94 1302.49 L862.35 1297.67 L884.75 1274.88 L907.15 1297.67 L929.56 1302.49 L951.96 1297.67 L974.37 1302.49 L996.77 1309.94 L1019.17 1309.94 L1041.58 1318.70 L1063.98 1318.70 L1086.38 1318.70 L1108.79 1318.70 L1131.19 1318.70 L1153.60 1318.70 L1176.00 1318.70 L1176 1318.7 L593.5 1318.7Z" fill="url(#gya)"/><path d="M593.50 1318.70 L615.90 1318.70 L638.31 1318.70 L660.71 1309.94 L683.12 1318.70 L705.52 1318.70 L727.92 1318.70 L750.33 1309.94 L772.73 1302.49 L795.13 1297.67 L817.54 1297.67 L839.94 1302.49 L862.35 1297.67 L884.75 1274.88 L907.15 1297.67 L929.56 1302.49 L951.96 1297.67 L974.37 1302.49 L996.77 1309.94 L1019.17 1309.94 L1041.58 1318.70 L1063.98 1318.70 L1086.38 1318.70 L1108.79 1318.70 L1131.19 1318.70 L1153.60 1318.70 L1176.00 1318.70" stroke="#f0c01a" stroke-width="2.2" stroke-linejoin="round" stroke-linecap="butt"/></g></svg>
<div class="t" style="left:574.60px;top:1310.10px;font-size:15px;color:#6b7a90;">0</div>
<div class="t" style="left:574.60px;top:1284.77px;font-size:15px;color:#6b7a90;">1</div>
<div class="t" style="left:574.60px;top:1259.45px;font-size:15px;color:#6b7a90;">2</div>
<div class="t" style="left:574.60px;top:1234.12px;font-size:15px;color:#6b7a90;">3</div>
<div class="t" style="left:574.60px;top:1208.79px;font-size:15px;color:#6b7a90;">4</div>
<div class="t" style="left:574.60px;top:1183.46px;font-size:15px;color:#6b7a90;">5</div>
<div class="t" style="left:574.60px;top:1158.13px;font-size:15px;color:#6b7a90;">6</div>
<div class="t" style="left:574.60px;top:1132.80px;font-size:15px;color:#6b7a90;">7</div>
<div class="t" style="left:539.20px;top:1329.90px;width:60px;text-align:right;font-size:14.5px;color:#6b7a90;transform-origin:100% 50%;transform:rotate(-45deg);">Mar 28</div>
<div class="t" style="left:584.01px;top:1329.90px;width:60px;text-align:right;font-size:14.5px;color:#6b7a90;transform-origin:100% 50%;transform:rotate(-45deg);">Mar 30</div>
<div class="t" style="left:628.82px;top:1329.90px;width:60px;text-align:right;font-size:14.5px;color:#6b7a90;transform-origin:100% 50%;transform:rotate(-45deg);">Apr 02</div>
<div class="t" style="left:673.62px;top:1329.90px;width:60px;text-align:right;font-size:14.5px;color:#6b7a90;transform-origin:100% 50%;transform:rotate(-45deg);">Apr 04</div>
<div class="t" style="left:718.43px;top:1329.90px;width:60px;text-align:right;font-size:14.5px;color:#6b7a90;transform-origin:100% 50%;transform:rotate(-45deg);">Apr 06</div>
<div class="t" style="left:763.24px;top:1329.90px;width:60px;text-align:right;font-size:14.5px;color:#6b7a90;transform-origin:100% 50%;transform:rotate(-45deg);">Apr 08</div>
<div class="t" style="left:808.05px;top:1329.90px;width:60px;text-align:right;font-size:14.5px;color:#6b7a90;transform-origin:100% 50%;transform:rotate(-45deg);">Apr 10</div>
<div class="t" style="left:852.85px;top:1329.90px;width:60px;text-align:right;font-size:14.5px;color:#6b7a90;transform-origin:100% 50%;transform:rotate(-45deg);">Apr 12</div>
<div class="t" style="left:897.66px;top:1329.90px;width:60px;text-align:right;font-size:14.5px;color:#6b7a90;transform-origin:100% 50%;transform:rotate(-45deg);">Apr 14</div>
<div class="t" style="left:942.47px;top:1329.90px;width:60px;text-align:right;font-size:14.5px;color:#6b7a90;transform-origin:100% 50%;transform:rotate(-45deg);">Apr 16</div>
<div class="t" style="left:987.28px;top:1329.90px;width:60px;text-align:right;font-size:14.5px;color:#6b7a90;transform-origin:100% 50%;transform:rotate(-45deg);">Apr 18</div>
<div class="t" style="left:1032.08px;top:1329.90px;width:60px;text-align:right;font-size:14.5px;color:#6b7a90;transform-origin:100% 50%;transform:rotate(-45deg);">Apr 20</div>
<div class="t" style="left:1076.89px;top:1329.90px;width:60px;text-align:right;font-size:14.5px;color:#6b7a90;transform-origin:100% 50%;transform:rotate(-45deg);">Apr 22</div>
<div class="t" style="left:1121.70px;top:1329.90px;width:60px;text-align:right;font-size:14.5px;color:#6b7a90;transform-origin:100% 50%;transform:rotate(-45deg);">Apr 24</div>
<div class="t" style="left:1286.90px;top:1029.33px;font-size:23px;color:#0a1f44;font-weight:700;transform:scaleX(1.0961);">Phone Calls</div>
<div class="t" style="left:1286.90px;top:1073.51px;font-size:17px;color:#6b7a90;letter-spacing:-0.067px;">Total Calls</div>
<svg class="b" style="left:1365px;top:1070px;" width="20" height="22" viewBox="0 0 20 22" fill="none"><path d="M6.8 5.3H11.9V17.5H9V7.9H6.8Z" fill="#0357ff"/></svg>
<div class="b" style="left:1583.8px;top:1029.55px;width:145.2px;height:44.3px;border:1.5px solid #dae2ed;border-radius:5.5px;background:#fafbfe;"></div>
<div class="t" style="left:1602.00px;top:1044.30px;font-size:15px;color:#33425f;letter-spacing:-0.125px;">Day of week</div>
<svg class="b" style="left:1698.5px;top:1046.3px;" width="16" height="12" viewBox="0 0 16 12" fill="none"><path d="M2 3.2 L8 9 L14 3.2" stroke="#8693a6" stroke-width="1.5" stroke-linecap="round" stroke-linejoin="round"/></svg>
<div class="b" style="left:1748px;top:1029.55px;width:144.7px;height:44.3px;border:1.5px solid #dae2ed;border-radius:5.5px;background:#fafbfe;"></div>
<div class="t" style="left:1766.20px;top:1044.30px;font-size:15px;color:#33425f;letter-spacing:0.025px;">1 Quarter</div>
<svg class="b" style="left:1862px;top:1046.3px;" width="16" height="12" viewBox="0 0 16 12" fill="none"><path d="M2 3.2 L8 9 L14 3.2" stroke="#8693a6" stroke-width="1.5" stroke-linecap="round" stroke-linejoin="round"/></svg>
<svg class="b" style="left:0px;top:0px;" width="2000" height="1400" viewBox="0 0 2000 1400" fill="none"><path d="M1304.5 1141.00H1892" stroke="#ebeff5" stroke-width="1.2"/><path d="M1304.5 1166.60H1892" stroke="#ebeff5" stroke-width="1.2"/><path d="M1304.5 1192.20H1892" stroke="#ebeff5" stroke-width="1.2"/><path d="M1304.5 1217.80H1892" stroke="#ebeff5" stroke-width="1.2"/><path d="M1304.5 1243.40H1892" stroke="#ebeff5" stroke-width="1.2"/><path d="M1304.5 1269.00H1892" stroke="#ebeff5" stroke-width="1.2"/><path d="M1304.5 1294.60H1892" stroke="#ebeff5" stroke-width="1.2"/><path d="M1304.5 1320.20H1892" stroke="#ebeff5" stroke-width="1.2"/><path d="M1304.5 1345.80H1892" stroke="#ebeff5" stroke-width="1.2"/><path d="M1309.5 1141V1343" stroke="#dfe4ec" stroke-width="1.4"/><path d="M1601 1141V1343" stroke="#ebeff5" stroke-width="1.2"/><rect x="1343.3" y="1269" width="218.5" height="90" fill="#0357ff"/><rect x="1635.9" y="1320" width="218.5" height="40" fill="#f0c01a"/></svg>
<div class="t" style="left:1278.75px;top:1132.40px;font-size:15px;color:#6b7a90;">2.0</div>
<div class="t" style="left:1278.75px;top:1158.00px;font-size:15px;color:#6b7a90;">1.8</div>
<div class="t" style="left:1278.75px;top:1183.60px;font-size:15px;color:#6b7a90;">1.6</div>
<div class="t" style="left:1278.75px;top:1209.20px;font-size:15px;color:#6b7a90;">1.4</div>
<div class="t" style="left:1278.75px;top:1234.80px;font-size:15px;color:#6b7a90;">1.2</div>
<div class="t" style="left:1278.75px;top:1260.40px;font-size:15px;color:#6b7a90;">1.0</div>
<div class="t" style="left:1278.75px;top:1286.00px;font-size:15px;color:#6b7a90;">0.8</div>
<div class="t" style="left:1278.75px;top:1311.60px;font-size:15px;color:#6b7a90;">0.6</div>
<div class="t" style="left:1278.75px;top:1337.20px;font-size:15px;color:#6b7a90;">0.4</div>
</div>
<div class="b" style="left:0px;top:452px;width:510px;height:1023.3px;border-radius:67px 66px 62px 62px;background:#fff;box-shadow:inset 0 0 24px 5px rgba(15,15,25,0.055), inset 0 0 3px rgba(15,15,25,0.05), 0 0 3px rgba(20,40,80,0.10), 2px 0 14px rgba(20,40,80,0.05);"></div>
<div class="b" style="left:36px;top:486px;width:438px;height:960px;border-radius:36px;background:#fff;box-shadow:0 0 8px 5px #fff;"></div>
<div class="t" style="left:75.00px;top:509.11px;font-size:17px;color:#000;letter-spacing:0.450px;-webkit-text-stroke:0.55px #000;">9:41</div>
<svg class="b" style="left:0px;top:0px;" width="520" height="600" viewBox="0 0 520 600" fill="none"><rect x="379.2" y="519.10" width="3.2" height="4.2" rx="1" fill="#000"/><rect x="384.8" y="516.70" width="3.2" height="6.6" rx="1" fill="#000"/><rect x="390.4" y="514.10" width="3.2" height="9.2" rx="1" fill="#000"/><rect x="396.0" y="511.10" width="3.2" height="12.2" rx="1" fill="#000"/><path d="M406.64 515.44A10.2 10.2 0 0 1 421.56 515.44" stroke="#000" stroke-width="2.3"/><path d="M409.49 518.10A6.3 6.3 0 0 1 418.71 518.10" stroke="#000" stroke-width="2.3"/><path d="M414.1 523.6 L411.1 520.0 A4.2 4.2 0 0 1 417.1 520.0Z" fill="#000"/><rect x="429.2" y="511.2" width="24.6" height="12" rx="3.2" stroke="#a9acb1" stroke-width="1.1"/><rect x="431.2" y="513.2" width="20.6" height="8" rx="1.8" fill="#000"/><path d="M455.3 515.2 Q456.9 517.2 455.3 519.2Z" fill="#a9acb1"/><path d="M321.8 558.9 L329.4 566.3 L337 558.9" stroke="#0a1f44" stroke-width="2.5" stroke-linecap="round" stroke-linejoin="round"/><path d="M431.2 553.2 H447.6 Q448.6 553.4 448.0 554.4 L441.4 564.2 V570.6 L437.4 572.2 V564.2 L430.8 554.4 Q430.2 553.4 431.2 553.2Z" stroke="#0a1f44" stroke-width="2.6" stroke-linejoin="round"/></svg>
<div class="t" style="left:169.20px;top:552.02px;font-size:19px;color:#0a1f44;font-weight:700;letter-spacing:-0.153px;">Google Insights</div>
<div class="b" style="left:36px;top:593px;width:438px;height:747.5px;background:#f5f7fa;border-top:1.5px solid #dde5f0;"></div>
<div class="clip" style="left:36px;top:594.5px;width:438px;height:745.5px;"><div style="position:absolute;left:-36px;top:-594.5px;width:600px;height:1475px;">
<div class="b" style="left:52.5px;top:609.6px;width:405px;height:519.2px;border:1.5px solid #dde5f0;border-radius:8px;background:#fff;box-shadow:0 2px 5px rgba(30,60,110,0.06);"></div>
<div class="b" style="left:53px;top:675.6px;width:404px;height:1.1px;background:#dde5f0;"></div>
<div class="t" style="left:71.60px;top:637.14px;font-size:18.5px;color:#0a1f44;font-weight:700;letter-spacing:-0.000px;">Placement Stats</div>
<svg class="b" style="left:0px;top:0px;" width="520" height="1140" viewBox="0 0 520 1140" fill="none"><g transform="translate(102.6 731) scale(0.96) translate(-102.6 -731)"><circle cx="101.89999999999999" cy="716.9" r="6.3" stroke="#0357ff" stroke-width="2"/><path d="M95.99999999999999 714.9 Q100.39999999999999 719.5 108.1 717.5" stroke="#0357ff" stroke-width="2" stroke-linecap="round"/><path d="M93.89999999999999 730.1 Q101.89999999999999 720.6999999999999 109.89999999999999 730.1" stroke="#0357ff" stroke-width="2.2" stroke-linecap="round"/><circle cx="91.0" cy="738.9" r="6.3" stroke="#78a4ff" stroke-width="2"/><path d="M85.1 736.9 Q89.5 741.5 97.2 739.5" stroke="#78a4ff" stroke-width="2" stroke-linecap="round"/><path d="M81.7 752.1 Q91.0 742.6999999999999 100.3 752.1" stroke="#78a4ff" stroke-width="2.2" stroke-linecap="round"/><circle cx="114.6" cy="738.9" r="6.3" stroke="#78a4ff" stroke-width="2"/><path d="M108.69999999999999 736.9 Q113.1 741.5 120.8 739.5" stroke="#78a4ff" stroke-width="2" stroke-linecap="round"/><path d="M105.3 752.1 Q114.6 742.6999999999999 123.89999999999999 752.1" stroke="#78a4ff" stroke-width="2.2" stroke-linecap="round"/></g><g transform="translate(102.6 835) scale(0.96) translate(-102.6 -835)"><g transform="translate(80.2 812.6)"><path d="M15.4 37.4H4.2a2.7 2.7 0 0 1-2.7-2.7V4.7A2.7 2.7 0 0 1 4.2 2H36.9a2.7 2.7 0 0 1 2.7 2.7V16.1M1.5 10H39.6" stroke="#78a4ff" stroke-width="2" stroke-linecap="round"/><circle cx="28.6" cy="29.1" r="9.5" stroke="#0357ff" stroke-width="2.2"/><path d="M35.6 36.1L42.7 43.1" stroke="#0357ff" stroke-width="2.2" stroke-linecap="round"/></g></g><g transform="translate(103 938) scale(0.96) translate(-103 -938)"><path d="M99.93 955.29A19.1 19.1 0 1 1 119.70 936.20" stroke="#78a4ff" stroke-width="2.1" stroke-linecap="round"/><path d="M96.55 946.21A10.8 10.8 0 1 1 110.75 932.51" stroke="#78a4ff" stroke-width="2.1" stroke-linecap="round"/><path d="M99.20 935.00 L119.90 941.70 L115.60 945.50 L123.50 951.70 L117.00 958.60 L108.90 950.60 L104.40 954.40Z" stroke="#0357ff" stroke-width="2.2" stroke-linejoin="round" fill="#fff"/></g><g transform="translate(102.6 1040) scale(0.96) translate(-102.6 -1040)"><g transform="translate(66 1003.8)"><path d="M34.20 15.50A22.3 22.3 0 0 1 56.50 37.80" stroke="#78a4ff" stroke-width="2" stroke-linecap="round"/><path d="M34.20 22.10A15.7 15.7 0 0 1 49.90 37.80" stroke="#78a4ff" stroke-width="2" stroke-linecap="round"/><path d="M34.20 29.00A8.8 8.8 0 0 1 43.00 37.80" stroke="#78a4ff" stroke-width="2" stroke-linecap="round"/><path d="M19.2 23.4 Q21 22.6 22.4 24.0 L28.6 30.2 Q30.2 32.0 28.6 33.8 L25.2 37.2 Q21.4 39.8 17.6 36.6 Q15.0 33.4 15.4 31.2 Q16.2 26.6 19.2 23.4Z" stroke="#0357ff" stroke-width="2.2" stroke-linejoin="round"/><path d="M38.4 43.0 Q40.0 41.8 41.6 43.2 L48.0 49.4 Q49.6 51.2 48.0 52.8 Q43.4 56.6 38.2 56.4 Q34.6 55.4 33.6 51.2 Q33.4 48.4 35.0 46.6 Z" stroke="#0357ff" stroke-width="2.2" stroke-linejoin="round"/><path d="M15.4 32.6 Q16.6 40.6 23.8 47.8 Q30.8 54.6 38.4 56.4" stroke="#0357ff" stroke-width="2.2" stroke-linecap="round"/></g></g></svg>
<div class="t" style="left:143.00px;top:709.99px;font-size:39px;color:#0a1f44;font-weight:700;transform:scaleX(1.0932);">405</div>
<div class="t" style="left:142.80px;top:758.61px;font-size:17px;color:#6b7a90;letter-spacing:-0.397px;">Views in last 30 days</div>
<div class="t" style="left:143.00px;top:812.49px;font-size:39px;color:#0a1f44;font-weight:700;transform:scaleX(1.0748);">368</div>
<div class="t" style="left:142.80px;top:861.11px;font-size:17px;color:#6b7a90;letter-spacing:-0.419px;">Searches in last 30 days</div>
<div class="t" style="left:143.00px;top:914.99px;font-size:39px;color:#0a1f44;font-weight:700;transform:scaleX(0.9818);">47</div>
<div class="t" style="left:142.80px;top:963.61px;font-size:17px;color:#6b7a90;letter-spacing:-0.234px;">Actions in last 30 days</div>
<svg class="b" style="left:140px;top:1015px;" width="30" height="40" viewBox="0 0 30 40" fill="none"><path d="M3.3 7.8H14.7V36H8.5V13.6H3.3Z" fill="#0a1f44"/></svg>
<div class="t" style="left:142.80px;top:1066.11px;font-size:17px;color:#6b7a90;letter-spacing:-0.356px;">Calls in last 30 days</div>
<div class="b" style="left:52.5px;top:1144.3px;width:405px;height:400px;border:1.5px solid #dde5f0;border-radius:8px;background:#fff;box-shadow:0 2px 5px rgba(30,60,110,0.06);"></div>
<div class="b" style="left:53px;top:1211px;width:404px;height:1.1px;background:#dde5f0;"></div>
<div class="t" style="left:71.60px;top:1171.42px;font-size:19px;color:#0a1f44;font-weight:700;letter-spacing:-0.391px;">Searches for your business</div>
<div class="t" style="left:385.60px;top:1173.11px;font-size:17px;color:#0357ff;letter-spacing:-0.575px;">1mo</div>
<svg class="b" style="left:0px;top:0px;" width="520" height="1475" viewBox="0 0 520 1475" fill="none"><path d="M423.6 1179.2 L430 1185.6 L436.4 1179.2" stroke="#0357ff" stroke-width="2.2" stroke-linecap="round" stroke-linejoin="round"/><path d="M165.60 1242.50A79.4 79.4 0 0 1 232.86 1279.71L199.23 1300.80A39.7 39.7 0 0 0 165.60 1282.20Z" fill="#0357ff"/><path d="M232.86 1279.71A79.4 79.4 0 1 1 165.60 1242.50L165.60 1282.20A39.7 39.7 0 1 0 199.23 1300.80Z" fill="#ccdcff"/><path d="M165.60 1283.70L165.60 1241.00L166.80 1241.00L166.80 1283.70Z" fill="#ccdcff"/><path d="M197.96 1301.60L234.13 1278.91L233.49 1277.89L197.32 1300.58Z" fill="#ccdcff"/><circle cx="165.6" cy="1321.9" r="59.550000000000004" stroke="none" fill="none"/><path d="M166.80 1284.20L166.80 1240.50" stroke="#fff" stroke-width="2.4"/><path d="M196.90 1300.85L233.92 1277.63" stroke="#fff" stroke-width="2.4"/><circle cx="165.6" cy="1321.9" r="81.4" stroke="#fff" stroke-width="4" fill="none"/><circle cx="165.6" cy="1321.9" r="37.7" stroke="#fff" stroke-width="4" fill="none"/><circle cx="289.5" cy="1321" r="6" fill="#0357ff"/></svg>
<div class="t" style="left:284.40px;top:1260.11px;font-size:17px;color:#6b7a90;letter-spacing:-0.452px;">Total Searches</div>
<div class="t" style="left:402.50px;top:1259.30px;font-size:21.5px;color:#0357ff;font-weight:700;transform:scaleX(1.0133);">24</div>
<div class="t" style="left:307.70px;top:1313.11px;font-size:17px;letter-spacing:0.080px;white-space:pre"><span style="color:#0a1f44;">Direct:</span><span style="color:#0a1f44;">&nbsp;</span><span style="color:#0a1f44;font-weight:700;">141</span></div>
</div></div>
<div class="b" style="left:36px;top:1339px;width:438px;height:1.5px;background:#e3e8f0;"></div>
<svg class="b" style="left:0px;top:1340px;" width="520" height="135" viewBox="0 1340 520 135" fill="none"><path d="M79.19 1381.20H73.00Q71.00 1381.20 71.00 1379.20V1368.84Q71.00 1367.34 72.40 1366.14L82.70 1358.10L93.00 1366.14Q94.40 1367.34 94.40 1368.84V1379.20Q94.40 1381.20 92.40 1381.20H86.21V1373.23H79.19Z" stroke="#7a889e" stroke-width="2.3" stroke-linejoin="round"/><circle cx="163.9" cy="1362.3" r="4.20" stroke="#7a889e" stroke-width="2.2"/><circle cx="177.10" cy="1363.62" r="3.00" stroke="#7a889e" stroke-width="2.2"/><path d="M171.34 1372.38Q175.30 1370.22 178.78 1370.46Q185.74 1371.42 185.98 1376.70Q185.98 1378.38 184.30 1378.38H175.66" stroke="#7a889e" stroke-width="2.2" stroke-linecap="round" stroke-linejoin="round"/><path d="M154.06 1380.78Q152.14 1380.78 152.14 1378.62Q153.10 1371.18 163.90 1371.18Q174.70 1371.18 175.66 1378.62Q175.66 1380.78 173.74 1380.78Z" stroke="#7a889e" stroke-width="2.2" stroke-linejoin="round" fill="#fff"/><rect x="243.6" y="1358.6" width="31.4" height="22.4" rx="3" stroke="#7a889e" stroke-width="2.2"/><rect x="243.6" y="1364" width="31.4" height="4.6" fill="#7a889e"/><path d="M248.2 1375H251.4M255.4 1375H261.6" stroke="#7a889e" stroke-width="2.2" stroke-linecap="round"/><path d="M339.40 1375.15A11.7 11.7 0 1 1 356.20 1375.15L347.8 1383.8Z" stroke="#0357ff" stroke-width="2.5" stroke-linejoin="round"/><circle cx="347.8" cy="1367" r="4.1" stroke="#0357ff" stroke-width="2.5"/><path d="M417.3 1360.5H440.1M417.3 1369.2H440.1M417.3 1378H440.1" stroke="#7a889e" stroke-width="2.2" stroke-linecap="round"/><circle cx="449.7" cy="1357" r="4.7" fill="#ee3e32"/></svg>
<div class="t" style="left:65.30px;top:1394.30px;font-size:14.3px;color:#7a889d;letter-spacing:-0.194px;">Home</div>
<div class="t" style="left:131.90px;top:1394.30px;font-size:14.3px;color:#7a889d;letter-spacing:-0.021px;">Contact Hub</div>
<div class="t" style="left:231.40px;top:1394.30px;font-size:14.3px;color:#7a889d;letter-spacing:-0.605px;">Payments</div>
<div class="t" style="left:314.00px;top:1394.30px;font-size:14.3px;color:#0a1f44;font-weight:700;letter-spacing:-0.088px;">Placement</div>
<div class="t" style="left:411.20px;top:1394.30px;font-size:14.3px;color:#7a889d;letter-spacing:-0.317px;">Menu</div>
</body></html>
